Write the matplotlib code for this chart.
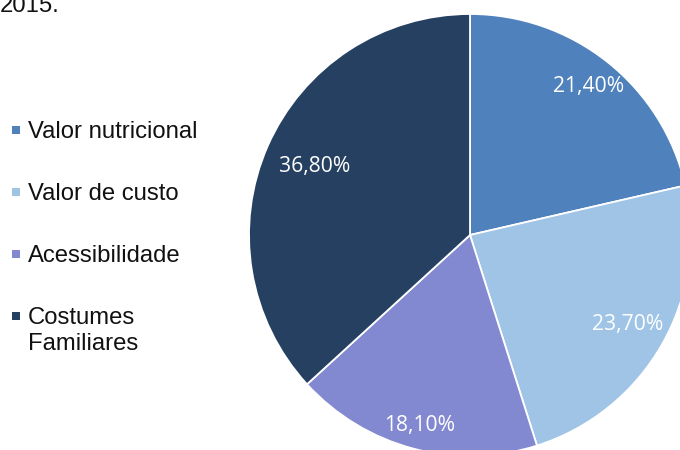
import matplotlib
matplotlib.use("Agg")
import matplotlib.pyplot as plt
from matplotlib.patches import Rectangle
import numpy as np

categories = ["Valor nutricional", "Valor de custo", "Acessibilidade", "Costumes\nFamiliares"]
values = [21.4, 23.7, 18.1, 36.8]
value_labels = ["21,40%", "23,70%", "18,10%", "36,80%"]
colors = ["#4F81BD", "#9FC4E6", "#8389D1", "#264062"]
label_dist = [0.86, 0.82, 0.89, 0.77]

W, H = 680, 450
fig = plt.figure(figsize=(W / 100, H / 100), dpi=100)
ax = fig.add_axes([0, 0, 1, 1])

cx, cy, r = 470, H - 235, 221
wedges, _ = ax.pie(values, colors=colors, startangle=90, counterclock=False,
                   center=(cx, cy), radius=r, frame=True,
                   wedgeprops=dict(edgecolor="white", linewidth=1.3))
ax.set_xlim(0, W)
ax.set_ylim(0, H)
ax.set_aspect("equal")
ax.axis("off")

for w, lab, d in zip(wedges, value_labels, label_dist):
    ang = np.deg2rad((w.theta1 + w.theta2) / 2)
    x = cx + d * r * np.cos(ang)
    y = cy + d * r * np.sin(ang)
    ax.text(x, y, lab, ha="center", va="center", color="white",
            fontsize=15.2, family="Open Sans")

# legend drawn in pixel coordinates
leg_y0, leg_step = 130, 62
for i, (cat, col) in enumerate(zip(categories, colors)):
    yc = leg_y0 + i * leg_step
    ax.add_patch(Rectangle((12, H - yc - 4), 8, 8, facecolor=col, edgecolor="none"))
    for j, line in enumerate(cat.split("\n")):
        ax.text(28, H - (yc + 8 + j * 26), line, ha="left", va="baseline",
                fontsize=17.2, family="Liberation Sans", color="#111111")

ax.text(0, H - 12, "2015.", ha="left", va="baseline", fontsize=17.2,
        family="Liberation Sans", color="#111111")

fig.savefig("out.png", dpi=100)
